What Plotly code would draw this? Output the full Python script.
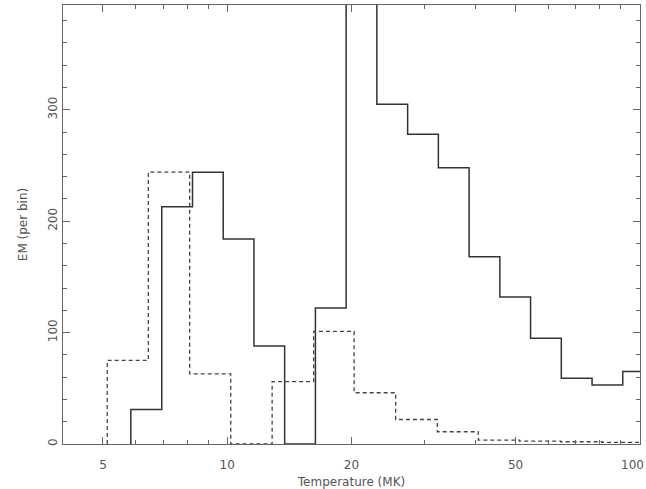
import plotly.graph_objects as go

# SU Aur (solid) histogram: bin edges (MK) and EM per bin
su_edges = [5.84, 6.94, 8.24, 9.78, 11.61, 13.78, 16.36, 19.42, 23.05, 27.37,
            32.49, 38.57, 45.79, 54.35, 64.52, 76.6, 90.9, 108.0]
su_values = [31, 213, 244, 184, 88, 0, 122, 420, 305, 278,
             248, 168, 132, 95, 59, 53, 65]

# EK Dra (dashed) histogram
ek_edges = [5.12, 6.44, 8.11, 10.2, 12.85, 16.2, 20.3, 25.6, 32.3, 40.6,
            51.1, 64.3, 81.0, 102.0]
ek_values = [75, 244, 63, 0, 56, 101, 46, 22, 11, 3.5, 2.5, 2, 1.5]

x_ticks = [5, 10, 20, 50, 100]
x_ticktext = ["5", "10", "20", "50", ""]
x_minor = [4, 6, 7, 8, 9, 30, 40, 60, 70, 80, 90]
y_ticks = [0, 100, 200, 300]


def step_xy(edges, values):
    xs = [edges[0], edges[0]]
    ys = [0, values[0]]
    for i in range(1, len(values)):
        xs.append(edges[i])
        ys.append(values[i])
    xs.append(edges[-1])
    ys.append(values[-1])
    return xs, ys


fig = go.Figure()
sx, sy = step_xy(su_edges, su_values)
ex, ey = step_xy(ek_edges, ek_values)
fig.add_trace(go.Scatter(x=sx, y=sy, mode="lines", line=dict(shape="hv", color="#333", width=1.5),
                         showlegend=False, name="SU Aur"))
fig.add_trace(go.Scatter(x=ex, y=ey, mode="lines", line=dict(shape="hv", color="#444", width=1.3, dash="4px,3px"),
                         showlegend=False, name="EK Dra"))

font_c = "#555"
fig.add_annotation(x=38.9, y=198, xref="x", yref="y", text="<- SU Aur", showarrow=False,
                   xanchor="left", yanchor="middle", font=dict(size=12, color=font_c, family="DejaVu Sans"))
fig.add_annotation(x=21.6, y=77, xref="x", yref="y", text="<- EK Dra", showarrow=False,
                   xanchor="left", yanchor="middle", font=dict(size=12, color=font_c, family="DejaVu Sans"))
# last x tick label, kept inside the page edge
fig.add_annotation(x=1.0, y=0, xref="paper", yref="paper", text="100", showarrow=False,
                   xanchor="right", yanchor="top", xshift=6, yshift=-12,
                   font=dict(size=12, color=font_c, family="DejaVu Sans"))

axis_common = dict(showline=True, linecolor="#666", linewidth=1, mirror="ticks",
                   ticks="inside", ticklen=7, tickcolor="#666", showgrid=False, zeroline=False,
                   automargin=False,
                   tickfont=dict(size=12, color=font_c, family="DejaVu Sans"))

fig.update_layout(
    width=646, height=489,
    margin=dict(l=63, r=6, t=5, b=45),
    paper_bgcolor="white", plot_bgcolor="white",
    font=dict(family="DejaVu Sans", color=font_c, size=12),
    xaxis=dict(type="log", range=[0.60206, 2.0004], tickvals=x_ticks, ticktext=x_ticktext,
               ticklabelstandoff=10,
               title=dict(text="Temperature (MK)", font=dict(size=12, color=font_c), standoff=8),
               minor=dict(tickvals=x_minor, ticks="inside", ticklen=4, tickcolor="#666"),
               **axis_common),
    yaxis=dict(range=[0, 394], tickvals=y_ticks, tickangle=-90,
               title=dict(text="EM (per bin)", font=dict(size=12, color=font_c), standoff=16),
               minor=dict(dtick=20, ticks="inside", ticklen=4, tickcolor="#666"),
               **axis_common),
)

fig.write_html("out.html")
